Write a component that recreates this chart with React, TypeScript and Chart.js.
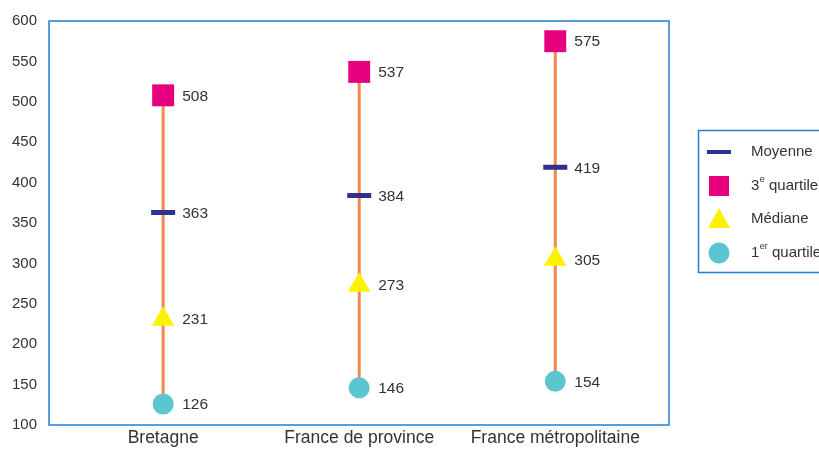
import React, { useEffect, useRef } from "react";
import { Chart, registerables } from "chart.js";

Chart.register(...registerables);

const categories = ["Bretagne", "France de province", "France métropolitaine"];
const q1 = [126, 146, 154];
const median = [231, 273, 305];
const mean = [363, 384, 419];
const q3 = [508, 537, 575];
const yTicks = { min: 100, max: 600, step: 50 };

const BLUE = "#1f7fd3";
const ORANGE = "#f4874b";
const NAVY = "#2e3192";
const PINK = "#e6007e";
const YELLOW = "#fff200";
const CYAN = "#5bc6d0";
const TEXT = "#333333";
const FONT = "'Liberation Sans', Arial, sans-serif";

const frameAndLabels = {
  id: "frameAndLabels",
  afterDatasetsDraw(chart: any) {
    const ctx = chart.ctx;
    const a = chart.chartArea;
    ctx.save();
    ctx.strokeStyle = BLUE;
    ctx.lineWidth = 1.5;
    ctx.strokeRect(a.left, a.top, a.right - a.left, a.bottom - a.top);
    ctx.fillStyle = TEXT;
    ctx.font = "15.5px " + FONT;
    ctx.textAlign = "left";
    ctx.textBaseline = "middle";
    chart.data.datasets.forEach((ds: any, i: number) => {
      if (!ds.valueLabels) return;
      const meta = chart.getDatasetMeta(i);
      meta.data.forEach((el: any, j: number) => {
        ctx.fillText(String(ds.data[j].y), el.x + 19, el.y + 1);
      });
    });
    ctx.restore();
  },
};

const customLegend = {
  id: "customLegend",
  afterDraw(chart: any) {
    const ctx = chart.ctx;
    const left = 698.5;
    const top = 130.5;
    ctx.save();
    ctx.strokeStyle = BLUE;
    ctx.lineWidth = 1.5;
    ctx.strokeRect(left, top, 140, 142);
    const cx = 719;
    const tx = 751;
    ctx.strokeStyle = NAVY;
    ctx.lineWidth = 4;
    ctx.beginPath();
    ctx.moveTo(cx - 12, 152);
    ctx.lineTo(cx + 12, 152);
    ctx.stroke();
    ctx.fillStyle = PINK;
    ctx.fillRect(cx - 10, 176, 20, 20);
    ctx.fillStyle = YELLOW;
    ctx.beginPath();
    ctx.moveTo(cx, 208);
    ctx.lineTo(cx + 11, 228);
    ctx.lineTo(cx - 11, 228);
    ctx.closePath();
    ctx.fill();
    ctx.fillStyle = CYAN;
    ctx.beginPath();
    ctx.arc(cx, 253, 10.5, 0, Math.PI * 2);
    ctx.fill();

    ctx.fillStyle = TEXT;
    ctx.textAlign = "left";
    ctx.textBaseline = "middle";
    const main = "15px " + FONT;
    const sup = "9px " + FONT;
    ctx.font = main;
    ctx.fillText("Moyenne", tx, 152);
    ctx.fillText("Médiane", tx, 219);
    const drawSup = (base: string, s: string, rest: string, y: number) => {
      ctx.font = main;
      ctx.fillText(base, tx, y);
      let x = tx + ctx.measureText(base).width + 0.5;
      ctx.font = sup;
      ctx.fillText(s, x, y - 6);
      x += ctx.measureText(s).width;
      ctx.font = main;
      ctx.fillText(rest, x, y);
    };
    drawSup("3", "e", " quartile", 186);
    drawSup("1", "er", " quartile", 253);
    ctx.restore();
  },
};

export default function App() {
  const ref = useRef<HTMLCanvasElement>(null);
  useEffect(() => {
    if (!ref.current) return;
    const xy = (arr: number[]) => arr.map((v, i) => ({ x: i, y: v }));
    const rangeSets = categories.map((_, i) => ({
      data: [
        { x: i, y: q1[i] },
        { x: i, y: q3[i] },
      ],
      showLine: true,
      borderColor: ORANGE,
      borderWidth: 3,
      pointRadius: 0,
      order: 10,
    }));
    const chart = new Chart(ref.current, {
      type: "scatter",
      data: {
        datasets: [
          ...rangeSets,
          {
            data: xy(q1),
            pointStyle: "circle",
            pointRadius: 10.5,
            backgroundColor: CYAN,
            borderWidth: 0,
            valueLabels: true,
            order: 1,
          },
          {
            data: xy(median),
            pointStyle: "triangle",
            pointRadius: 13,
            backgroundColor: YELLOW,
            borderWidth: 0,
            valueLabels: true,
            order: 1,
          },
          {
            data: xy(mean),
            pointStyle: "line",
            pointRadius: 12,
            borderColor: NAVY,
            borderWidth: 5,
            valueLabels: true,
            order: 1,
          },
          {
            data: xy(q3),
            pointStyle: "rect",
            pointRadius: 15.5,
            backgroundColor: PINK,
            borderWidth: 0,
            valueLabels: true,
            order: 1,
          },
        ] as any,
      },
      options: {
        animation: false,
        responsive: false,
        layout: { padding: { top: 8, right: 150, bottom: 0, left: 0 } },
        plugins: { legend: { display: false }, tooltip: { enabled: false } },
        scales: {
          x: {
            type: "linear",
            min: -0.582,
            max: 2.58,
            grid: { display: false, drawTicks: false },
            border: { display: false },
            afterBuildTicks: (axis: any) => {
              axis.ticks = categories.map((_, i) => ({ value: i }));
            },
            ticks: {
              autoSkip: false,
              maxRotation: 0,
              color: TEXT,
              font: { family: FONT, size: 17.5 },
              padding: 3,
              callback: (v: any) => categories[v as number] ?? "",
            },
          },
          y: {
            min: yTicks.min,
            max: yTicks.max,
            grid: { display: false, drawTicks: false },
            border: { display: false },
            ticks: {
              stepSize: yTicks.step,
              color: TEXT,
              font: { family: FONT, size: 15 },
              padding: 12,
            },
          },
        },
      } as any,
      plugins: [frameAndLabels, customLegend],
    });
    return () => chart.destroy();
  }, []);
  return (
    <div style={{ position: "fixed", left: 0, top: 0, width: 819, height: 452, background: "#fff" }}>
      <canvas ref={ref} width={819} height={452} />
    </div>
  );
}
